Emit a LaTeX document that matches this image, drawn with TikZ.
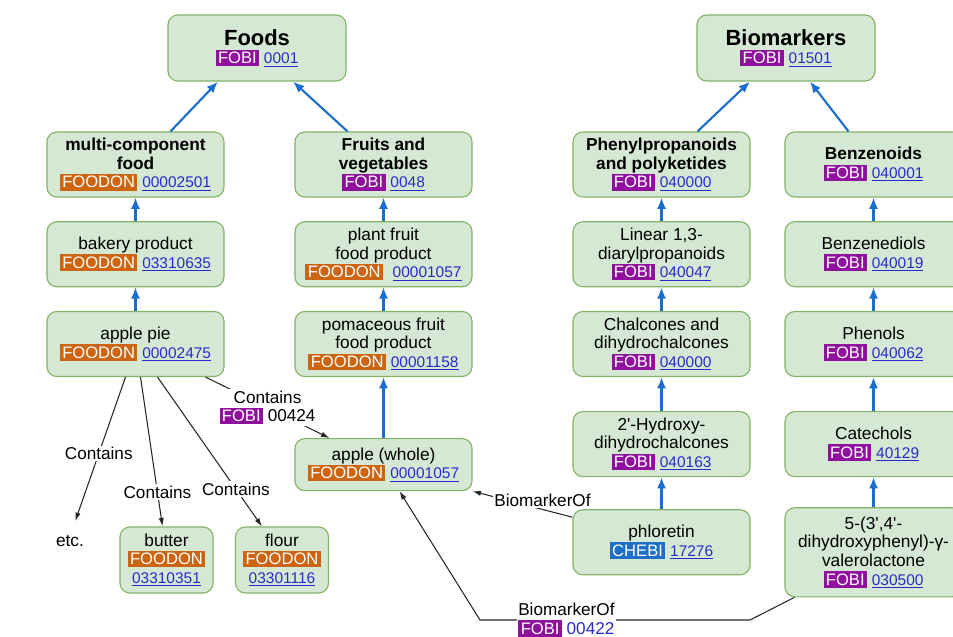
\documentclass[tikz,border=0pt]{standalone}
\usepackage{fontspec}
\setmainfont{Liberation Sans}
\usetikzlibrary{positioning, arrows.meta}

\definecolor{boxfill}{HTML}{D5E8D4}
\definecolor{boxline}{HTML}{82B366}
\definecolor{fobi}{HTML}{8E109C}
\definecolor{foodon}{HTML}{CC6410}
\definecolor{chebi}{HTML}{1E6EC8}
\definecolor{idblue}{HTML}{2A2ACC}
\definecolor{isablue}{HTML}{1A6ECF}

\setlength{\fboxsep}{1.7pt}
\newcommand{\ontotag}[2]{{\fontsize{11.8}{12}\selectfont\colorbox{#1}{\textcolor{white}{#2}}}}
\newcommand{\fobitag}{\ontotag{fobi}{FOBI}}
\newcommand{\foodontag}{\ontotag{foodon}{FOODON}}
\newcommand{\chebitag}{\ontotag{chebi}{CHEBI}}
\newcommand{\idref}[1]{{\fontsize{11}{12}\selectfont\textcolor{idblue}{\underline{#1}}}}
\newcommand{\headfont}{\fontsize{15.6}{17}\selectfont\bfseries}

\begin{document}
\begin{tikzpicture}
[
	x=0.025cm, y=-0.025cm,
	node distance = 0.59cm,
	term/.style={draw=boxline, fill=boxfill, line width=0.8pt, rounded corners=7pt, align=center, inner sep=2pt, minimum width=4.425cm, minimum height=1.625cm, font=\fontsize{12.3}{13.3}\selectfont},
	root/.style={term, minimum width=4.45cm, minimum height=1.65cm},
	leaf/.style={term, minimum width=2.325cm, minimum height=1.65cm},
	isa/.style={draw=isablue, line width=1.5pt, -{Latex[length=8pt, width=6.5pt]}},
	rel/.style={draw=black!85, line width=0.75pt, -{Latex[length=6pt, width=3.8pt]}},
	relT/.style={fill=white, inner sep=1pt, align=center, font=\fontsize{12.2}{13.3}\selectfont}
]
	\useasboundingbox (0,0) rectangle (953,637);

	\node[root] (Foods) at (257,48) {{\headfont Foods}\\ \fobitag\ \idref{0001}};
	\node[root] (Biomarkers) at (786,48) {{\headfont Biomarkers}\\ \fobitag\ \idref{01501}};

	\node[term] (Multi) at (135.5,164.5) {\textbf{multi-component}\\ \textbf{food}\\ \foodontag\ \idref{00002501}};
	\node[term, below=of Multi] (Bakery) {bakery product\\ \foodontag\ \idref{03310635}};
	\node[term, below=of Bakery] (ApplePie) {apple pie\\ \foodontag\ \idref{00002475}};

	\node[term] (Fruits) at (383.5,164.5) {\textbf{Fruits and}\\ \textbf{vegetables}\\ \fobitag\ \idref{0048}};
	\node[term, below=of Fruits] (PlantFruit) {plant fruit\\ food product\\ \foodontag\ \ \idref{00001057}};
	\node[term, below=of PlantFruit] (Pomaceous) {pomaceous fruit\\ food product\\ \foodontag\ \idref{00001158}};
	\node[term, minimum height=1.3cm, below=1.525cm of Pomaceous] (Apple) {apple (whole)\\ \foodontag\ \idref{00001057}};

	\node[term] (Phenyl) at (661.5,164.5) {\textbf{Phenylpropanoids}\\ \textbf{and polyketides}\\ \fobitag\ \idref{040000}};
	\node[term, below=of Phenyl] (Linear) {Linear 1,3-\\ diarylpropanoids\\ \fobitag\ \idref{040047}};
	\node[term, below=of Linear] (Chalcones) {Chalcones and\\ dihydrochalcones\\ \fobitag\ \idref{040000}};
	\node[term, below=0.85cm of Chalcones] (Hydroxy) {2\textquotesingle-Hydroxy-\\ dihydrochalcones\\ \fobitag\ \idref{040163}};
	\node[term, below=0.8cm of Hydroxy] (Phloretin) {phloretin\\ \chebitag\ \idref{17276}};

	\node[term] (Benzenoids) at (873.5,164.5) {\textbf{Benzenoids}\\ \fobitag\ \idref{040001}};
	\node[term, below=of Benzenoids] (Benzenediols) {Benzenediols\\ \fobitag\ \idref{040019}};
	\node[term, below=of Benzenediols] (Phenols) {Phenols\\ \fobitag\ \idref{040062}};
	\node[term, below=0.85cm of Phenols] (Catechols) {Catechols\\ \fobitag\ \idref{40129}};
	\node[term, minimum height=2.225cm, below=0.75cm of Catechols] (DHPV) {5-(3\textquotesingle,4\textquotesingle-\\ dihydroxyphenyl)-γ-\\ valerolactone\\ \fobitag\ \idref{030500}};

	\node[leaf] (Butter) at (166.5,560) {butter\\ \foodontag\\ \idref{03310351}};
	\node[leaf] (Flour) at (282,560) {flour\\ \foodontag\\ \idref{03301116}};
	\node[font=\fontsize{12.3}{13}\selectfont] (Etc) at (70,541) {etc.};

	\draw[isa] ([xshift=0.875cm]Multi.north) -- ([xshift=-0.975cm]Foods.south);
	\draw[isa] ([xshift=-0.9cm]Fruits.north) -- ([xshift=0.9cm]Foods.south);
	\draw[isa] ([xshift=0.9cm]Phenyl.north) -- ([xshift=-0.9cm]Biomarkers.south);
	\draw[isa] ([xshift=-0.625cm]Benzenoids.north) -- ([xshift=0.6cm]Biomarkers.south);
	\foreach \a/\b in {Bakery/Multi, ApplePie/Bakery, PlantFruit/Fruits, Pomaceous/PlantFruit, Apple/Pomaceous, Linear/Phenyl, Chalcones/Linear, Hydroxy/Chalcones, Phloretin/Hydroxy, Benzenediols/Benzenoids, Phenols/Benzenediols, Catechols/Phenols, DHPV/Catechols}
		\draw[isa] (\a.north) -- (\b.south);

	\draw[rel, shorten >=7pt] ([xshift=-0.25cm]ApplePie.south) -- node[relT, pos=0.5] {Contains} ([xshift=0.05cm]Etc.north);
	\draw[rel] ([xshift=0.125cm]ApplePie.south) -- node[relT, pos=0.77] {Contains} ([xshift=-0.1cm]Butter.north);
	\draw[rel] ([xshift=0.55cm]ApplePie.south) -- node[relT, pos=0.75] {Contains} ([xshift=-0.5cm]Flour.north);
	\draw[rel] ([xshift=1.75cm]ApplePie.south) -- node[relT] {Contains\\ \fobitag\ 00424} ([xshift=-1.35cm]Apple.north);
	\draw[rel] ([yshift=-0.2cm]Phloretin.north west) -- node[relT, pos=0.3, yshift=0.225cm] {BiomarkerOf} (Apple.south east);
	\draw[rel] ([xshift=0.25cm]DHPV.south west) -- (750,620) -- node[relT, pos=0.68] {BiomarkerOf\\ \fobitag\ \textcolor{idblue}{00422}} (480,620) -- ([xshift=0.4cm]Apple.south);
\end{tikzpicture}
\end{document}
